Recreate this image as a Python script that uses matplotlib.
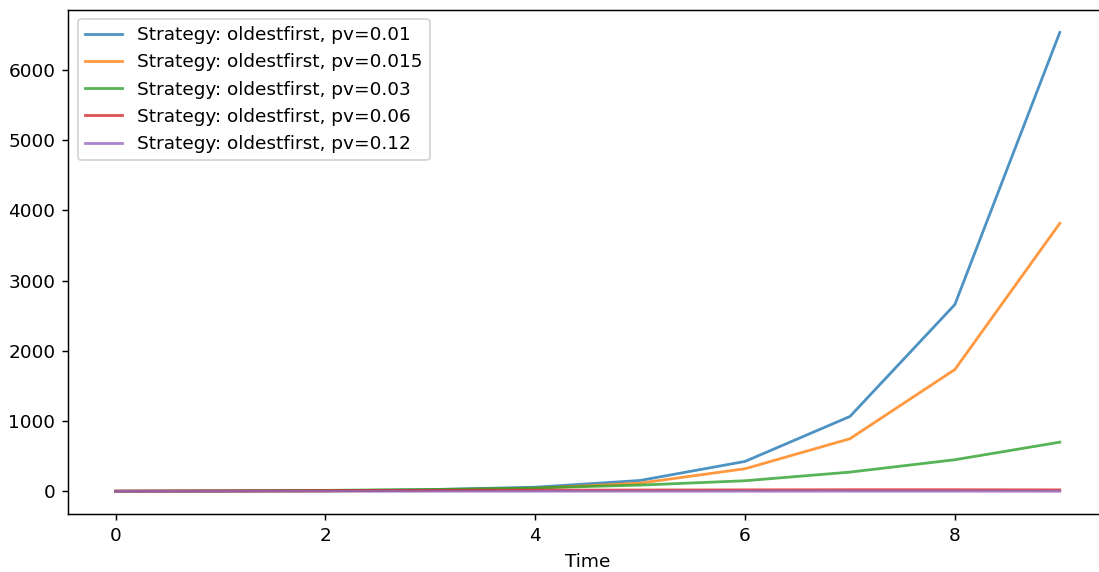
import matplotlib
matplotlib.use("Agg")
import matplotlib.pyplot as plt

# time steps and one series per vaccination probability
time = [0, 1, 2, 3, 4, 5, 6, 7, 8, 9]
pv_labels = ["0.01", "0.015", "0.03", "0.06", "0.12"]
pv_001 = [2, 4, 9, 24, 60, 156, 427, 1067, 2660, 6533]
pv_0015 = [1, 3, 7, 18, 45, 118, 323, 750, 1735, 3816]
pv_003 = [3, 8, 15, 28, 50, 90, 152, 275, 451, 701]
pv_006 = [6, 9, 12, 15, 18, 20, 22, 24, 24, 22]
pv_012 = [1, 2, 2, 3, 3, 3, 3, 3, 3, 2]

series = [pv_001, pv_0015, pv_003, pv_006, pv_012]

DPI = 133
plt.rcParams['font.size'] = 10

fig = plt.figure(figsize=(1099 / DPI, 572 / DPI), dpi=DPI)
ax = fig.add_axes([68.3 / 1099, (572 - 514.3) / 572,
                   (1107 - 68.3) / 1099, (514.3 - 9.5) / 572])

for values, pv in zip(series, pv_labels):
    ax.plot(time, values, alpha=0.8,
            label="Strategy: oldestfirst, pv=" + pv)

ax.set_xlabel("Time")
ax.legend(loc="upper left")

fig.savefig("out.png", dpi=DPI)
